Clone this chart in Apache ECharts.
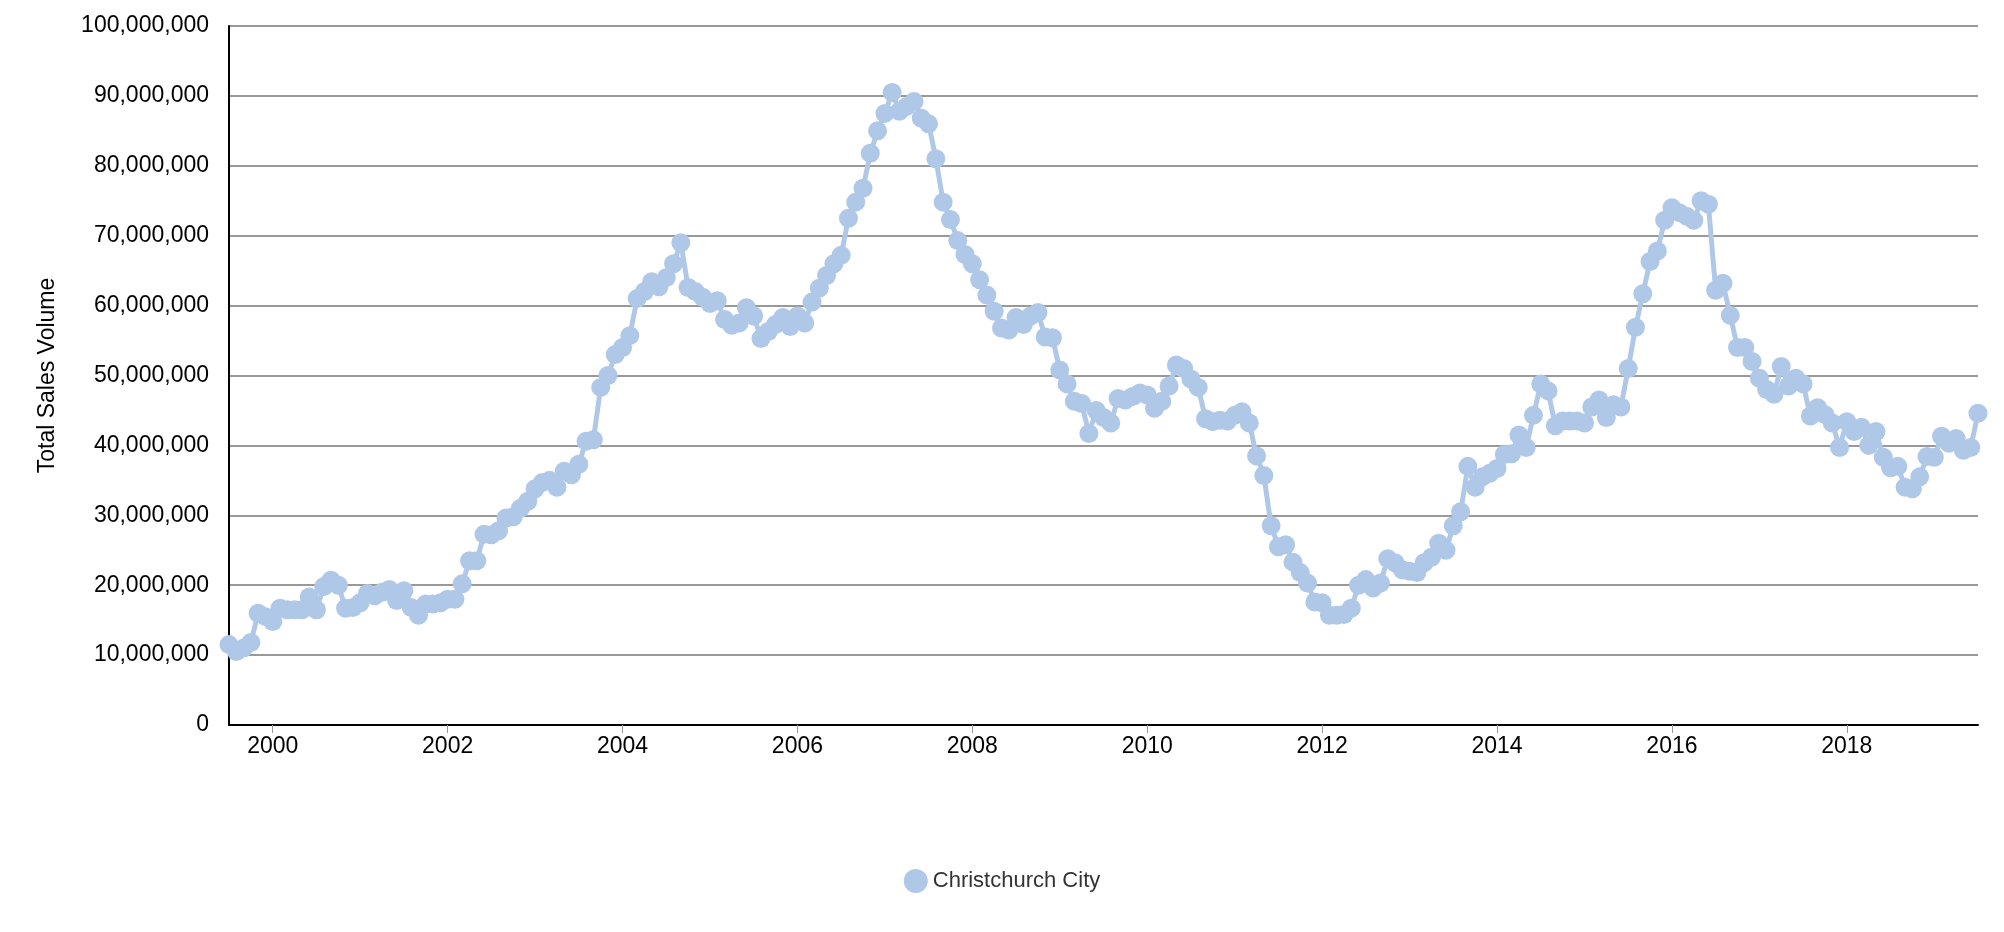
<!DOCTYPE html>
<html>
<head>
<meta charset="utf-8">
<script src="https://cdn.jsdelivr.net/npm/echarts@6/dist/echarts.min.js"></script>
<style>html,body{margin:0;padding:0;background:#fff}#chart{width:2004px;height:932px}</style>
</head>
<body>
<div id="chart"></div>
<script>
var startYear = 1999, startMonth = 7;
var seriesName = 'Christchurch City';
// monthly values in millions, Jul 1999 - Jul 2019
var values = [
 11.5, 10.5, 11, 11.8, 16, 15.5,
 14.8, 16.7, 16.5, 16.5, 16.5, 18.3, 16.5, 19.8, 20.7, 20, 16.7, 16.8,
 17.5, 18.8, 18.5, 19, 19.4, 17.8, 19.2, 16.8, 15.7, 17.3, 17.3, 17.5,
 18, 18, 20.2, 23.5, 23.5, 27.3, 27.2, 27.8, 29.6, 29.8, 31, 32,
 33.8, 34.7, 35, 34, 36.3, 35.8, 37.3, 40.6, 40.8, 48.3, 50, 53,
 54, 55.7, 61, 62, 63.4, 62.7, 64, 66, 69, 62.6, 62, 61.2,
 60.3, 60.7, 58, 57.2, 57.5, 59.7, 58.5, 55.3, 56.3, 57.3, 58.3, 57,
 58.5, 57.5, 60.5, 62.5, 64.3, 66, 67.2, 72.5, 74.8, 76.8, 81.8, 85,
 87.5, 90.5, 87.8, 88.5, 89.2, 86.8, 86, 81, 74.8, 72.3, 69.3, 67.3,
 66, 63.7, 61.5, 59.2, 56.8, 56.5, 58.3, 57.3, 58.5, 59, 55.5, 55.4,
 50.8, 48.8, 46.3, 46, 41.7, 45, 44, 43.2, 46.7, 46.5, 47, 47.5,
 47.2, 45.3, 46.3, 48.5, 51.5, 51, 49.5, 48.3, 43.8, 43.4, 43.6, 43.5,
 44.3, 44.8, 43.2, 38.5, 35.7, 28.5, 25.5, 25.8, 23.3, 21.8, 20.3, 17.6,
 17.5, 15.7, 15.7, 15.8, 16.7, 20, 20.8, 19.6, 20.3, 23.8, 23.2, 22.2,
 22, 21.8, 23.2, 24, 26, 25, 28.5, 30.5, 37, 34, 35.5, 36,
 36.7, 38.7, 38.8, 41.5, 39.7, 44.3, 48.8, 47.8, 42.8, 43.5, 43.5, 43.5,
 43.2, 45.5, 46.5, 44, 45.8, 45.5, 51, 56.9, 61.7, 66.3, 67.8, 72.2,
 74, 73.3, 72.8, 72.2, 75, 74.5, 62.2, 63.2, 58.6, 54, 54, 52,
 49.6, 48, 47.3, 51.3, 48.5, 49.6, 48.8, 44.2, 45.4, 44.4, 43.2, 39.7,
 43.4, 42, 42.6, 40, 42, 38.3, 36.8, 37, 34, 33.8, 35.5, 38.4,
 38.3, 41.3, 40.3, 41, 39.3, 39.7, 44.6
];

var months = [];
var data = [];
for (var i = 0; i < values.length; i++) {
    var m = startMonth - 1 + i;
    var y = startYear + Math.floor(m / 12);
    months.push(y + '-' + ((m % 12) + 1));
    data.push(Math.round(values[i] * 1000000));
}
function isLabel(idx) {
    var p = months[idx].split('-');
    return p[1] === '1' && (+p[0]) % 2 === 0;
}

var myChart = echarts.init(document.getElementById('chart'));
var font = 'Helvetica, "Liberation Sans", Arial, sans-serif';
var option = {
    backgroundColor: '#ffffff',
    animation: false,
    textStyle: {fontFamily: font},
    grid: {left: 229, right: 26, top: 26, bottom: 207},
    legend: {
        bottom: 34,
        icon: 'circle',
        itemWidth: 24, itemHeight: 24,
        textStyle: {fontSize: 22, color: '#333', fontFamily: font},
        data: [seriesName]
    },
    xAxis: {
        type: 'category',
        boundaryGap: false,
        data: months,
        axisLine: {lineStyle: {color: '#000', width: 2}},
        axisTick: {interval: function (i) { return isLabel(i); }, length: 8, lineStyle: {color: '#999'}},
        axisLabel: {
            interval: function (i) { return isLabel(i); },
            formatter: function (v) { return v.split('-')[0]; },
            fontSize: 23, color: '#000', margin: 10
        },
        splitLine: {show: false}
    },
    yAxis: {
        type: 'value',
        min: 0, max: 100000000, interval: 10000000,
        name: 'Total Sales Volume',
        nameLocation: 'middle',
        nameGap: 170,
        nameTextStyle: {fontSize: 23, color: '#000'},
        axisLine: {show: true, lineStyle: {color: '#000', width: 2}},
        axisTick: {show: false},
        axisLabel: {
            fontSize: 23, color: '#000', margin: 20,
            formatter: function (v) { return v.toLocaleString('en-US'); }
        },
        splitLine: {lineStyle: {color: '#999', width: 2}}
    },
    series: [{
        name: seriesName,
        type: 'line',
        data: data,
        symbol: 'circle',
        symbolSize: 19,
        showAllSymbol: true,
        color: '#b0c8e8',
        lineStyle: {width: 5, color: '#b0c8e8'},
        itemStyle: {color: '#b0c8e8'}
    }]
};
myChart.setOption(option);
</script>
</body>
</html>
